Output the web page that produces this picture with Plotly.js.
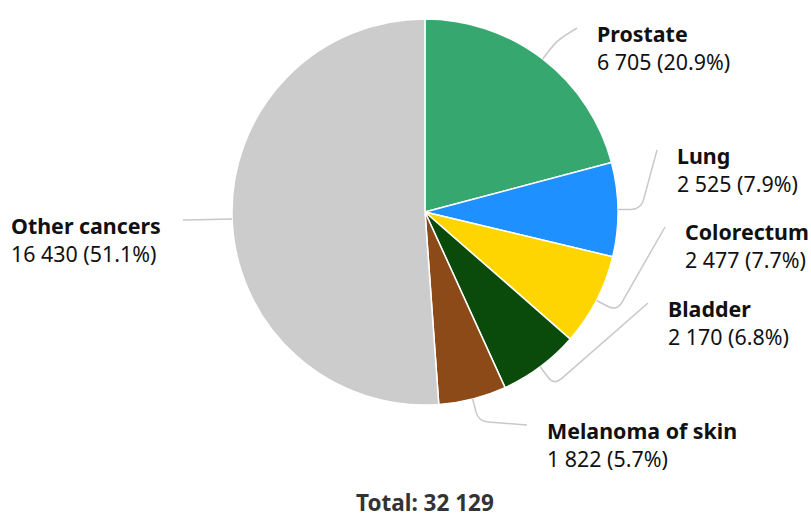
<!DOCTYPE html>
<html><head><meta charset="utf-8">
<script src="https://cdn.plot.ly/plotly-3.0.1.min.js"></script>
<style>html,body{margin:0;padding:0;background:#fff}</style>
</head><body>
<div id="chart" style="width:811px;height:517px"></div>
<script>
const categories = ['Prostate', 'Lung', 'Colorectum', 'Bladder', 'Melanoma of skin', 'Other cancers'];
const values = [6705, 2525, 2477, 2170, 1822, 16430];
const colors = ['#36A86F', '#1E90FF', '#FFD500', '#0A4A0A', '#8B4A17', '#CCCCCC'];
// label placement (pixel position of connector end), layout only
const labelX = [577, 657, 665, 648, 527, 183];
const labelY = [28, 150, 227, 303, 425, 220];

const W = 811, H = 517;
const cx = 425, cy = 212, r = 193;
const FONT = 'Noto Sans, sans-serif';
const FS = 21.4;

function fmt(n) { return String(n).replace(/\B(?=(\d{3})+(?!\d))/g, ' '); }
const total = values.reduce((a, b) => a + b, 0);
const px = x => x / W, py = y => 1 - y / H;

const shapes = [], annotations = [];
let cum = 0;
values.forEach((v, i) => {
  const mid = (cum + v / 2) / total * 2 * Math.PI; cum += v;
  const sx = Math.sin(mid), sy = -Math.cos(mid);
  const right = sx >= 0;
  const p0 = [cx + r * sx, cy + r * sy];
  const p1 = [cx + (r + 23) * sx, cy + (r + 23) * sy];
  const p2 = [labelX[i], labelY[i]];
  const d01 = Math.hypot(p1[0] - p0[0], p1[1] - p0[1]);
  const d12 = Math.hypot(p2[0] - p1[0], p2[1] - p1[1]);
  const rc = Math.min(10, d01 * 0.8, d12 * 0.5);
  const a = [p1[0] - (p1[0] - p0[0]) / d01 * rc, p1[1] - (p1[1] - p0[1]) / d01 * rc];
  const b = [p1[0] + (p2[0] - p1[0]) / d12 * rc, p1[1] + (p2[1] - p1[1]) / d12 * rc];
  const P = p => px(p[0]).toFixed(5) + ',' + py(p[1]).toFixed(5);
  shapes.push({
    type: 'path', xref: 'paper', yref: 'paper',
    path: 'M' + P(p0) + ' L' + P(a) + ' Q' + P(p1) + ' ' + P(b) + ' L' + P(p2),
    line: { color: '#C8C8C8', width: 1.5 }
  });
  const tx = right ? labelX[i] + 18 : labelX[i] - 20;
  const pct = (v / total * 100).toFixed(1);
  annotations.push({
    xref: 'paper', yref: 'paper', x: px(tx), y: py(labelY[i] + 19),
    xanchor: right ? 'left' : 'right', yanchor: 'middle', align: 'left', showarrow: false,
    text: '<b>' + categories[i] + '</b><br>' + fmt(v) + ' (' + pct + '%)',
    font: { family: FONT, size: FS, color: '#111' }
  });
});
annotations.push({
  xref: 'paper', yref: 'paper', x: px(cx), y: py(502), xanchor: 'center', yanchor: 'middle',
  showarrow: false, text: '<b>Total: ' + fmt(total) + '</b>',
  font: { family: FONT, size: 22.5, color: '#333' }
});

const trace = {
  type: 'pie', values: values, labels: categories, sort: false, direction: 'clockwise',
  rotation: 0, textinfo: 'none', hoverinfo: 'none',
  marker: { colors: colors, line: { color: '#FFFFFF', width: 1.5 } },
  domain: { x: [px(cx - r), px(cx + r)], y: [py(cy + r), py(cy - r)] }
};
Plotly.newPlot('chart', [trace], {
  width: W, height: H, margin: { l: 0, r: 0, t: 0, b: 0 }, showlegend: false,
  paper_bgcolor: '#fff', shapes: shapes, annotations: annotations
}, { staticPlot: true });
</script>
</body></html>
